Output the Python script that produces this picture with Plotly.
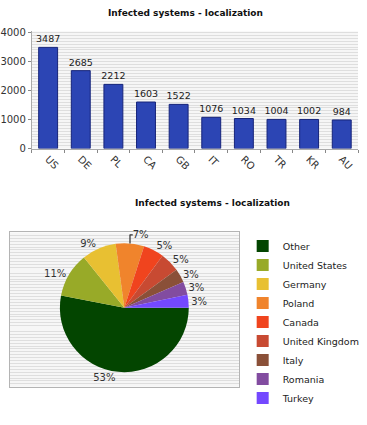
import plotly.graph_objects as go

W, H = 367, 425

bar_countries = ["US", "DE", "PL", "CA", "GB", "IT", "RO", "TR", "KR", "AU"]
bar_values = [3487, 2685, 2212, 1603, 1522, 1076, 1034, 1004, 1002, 984]
y_ticks = [0, 1000, 2000, 3000, 4000]

pie_labels = ["Other", "United States", "Germany", "Poland", "Canada",
              "United Kingdom", "Italy", "Romania", "Turkey"]
pie_values = [16500, 3487, 2685, 2212, 1603, 1522, 1076, 1034, 1004]
pie_colors = ["#034500", "#98aa28", "#e8c032", "#f0842c", "#f0441e",
              "#c84a32", "#8a5038", "#824ca0", "#7448ff"]

title_text = "Infected systems - localization"
FONT = "DejaVu Sans"


def px_x(p):
    return p / W


def px_y(p):
    return 1 - p / H


fig = go.Figure()

fig.add_trace(go.Bar(
    x=bar_countries, y=bar_values,
    text=[str(v) for v in bar_values], textposition="outside",
    constraintext="none",
    textfont=dict(size=9.5, color="#222222", family=FONT),
    marker=dict(color="#2c45b4", line=dict(color="#16247a", width=1)),
    cliponaxis=False, showlegend=False, hoverinfo="x+y",
    xaxis="x", yaxis="y",
))

# invisible trace to host the striped background box of the pie
fig.add_trace(go.Scatter(x=[0, 1], y=[0, 1], mode="markers",
                         marker=dict(opacity=0), showlegend=False,
                         hoverinfo="skip", xaxis="x2", yaxis="y2"))

cx, cy, r = 123, 311, 66
fig.add_trace(go.Pie(
    labels=pie_labels, values=pie_values, sort=False,
    direction="clockwise", rotation=90,
    marker=dict(colors=pie_colors, line=dict(width=0)),
    textinfo="percent", texttemplate="%{percent:.0%}",
    textposition="outside",
    textfont=dict(size=10, color="#333333", family=FONT),
    domain=dict(x=[px_x(cx - r), px_x(cx + r)], y=[px_y(cy + r), px_y(cy - r)]),
    showlegend=True,
))

fig.update_layout(
    width=W, height=H,
    margin=dict(l=0, r=0, t=0, b=0),
    paper_bgcolor="white", plot_bgcolor="#f6f6f6",
    font=dict(family=FONT, size=10, color="#333333"),
    bargap=0.42,
    xaxis=dict(domain=[px_x(30), px_x(358)], showgrid=False,
               tickangle=45, ticks="outside", ticklen=3, tickcolor="#888888",
               tickson="boundaries", showline=True, linecolor="#aaaaaa",
               tickfont=dict(size=10, color="#333333"), anchor="y"),
    yaxis=dict(domain=[px_y(148), px_y(28)], range=[0, 4040],
               tickvals=y_ticks, ticktext=[str(v) for v in y_ticks],
               ticks="outside", ticklen=3, tickcolor="#888888",
               showline=True, linecolor="#aaaaaa", showgrid=False,
               zeroline=False,
               minor=dict(dtick=100, showgrid=True, gridcolor="#dedede", gridwidth=1),
               tickfont=dict(size=10, color="#333333"), anchor="x"),
    xaxis2=dict(domain=[px_x(8), px_x(238)], range=[0, 1], showticklabels=False,
                showgrid=False, zeroline=False, showline=True, mirror=True,
                linecolor="#b4b4b4", anchor="y2", fixedrange=True),
    yaxis2=dict(domain=[px_y(392), px_y(234)], range=[0, 53], showticklabels=False,
                showgrid=False, zeroline=False, showline=True, mirror=True,
                linecolor="#b4b4b4", anchor="x2", fixedrange=True,
                minor=dict(dtick=1, showgrid=True, gridcolor="#dedede", gridwidth=1)),
    legend=dict(x=px_x(242), y=px_y(233), xanchor="left", yanchor="top",
                font=dict(size=9.5, color="#222222", family=FONT),
                bgcolor="rgba(0,0,0,0)", itemwidth=30, traceorder="normal"),
    annotations=[
        dict(text="<b>" + title_text + "</b>", x=px_x(185), y=px_y(9),
             xref="paper", yref="paper", showarrow=False, yanchor="middle",
             font=dict(size=9, color="#111111", family=FONT)),
        dict(text="<b>" + title_text + "</b>", x=px_x(212), y=px_y(204),
             xref="paper", yref="paper", showarrow=False, yanchor="middle",
             font=dict(size=9, color="#111111", family=FONT)),
    ],
)

fig.write_html("out.html", config={"displayModeBar": False},
               post_script="document.body.style.margin='0';")
